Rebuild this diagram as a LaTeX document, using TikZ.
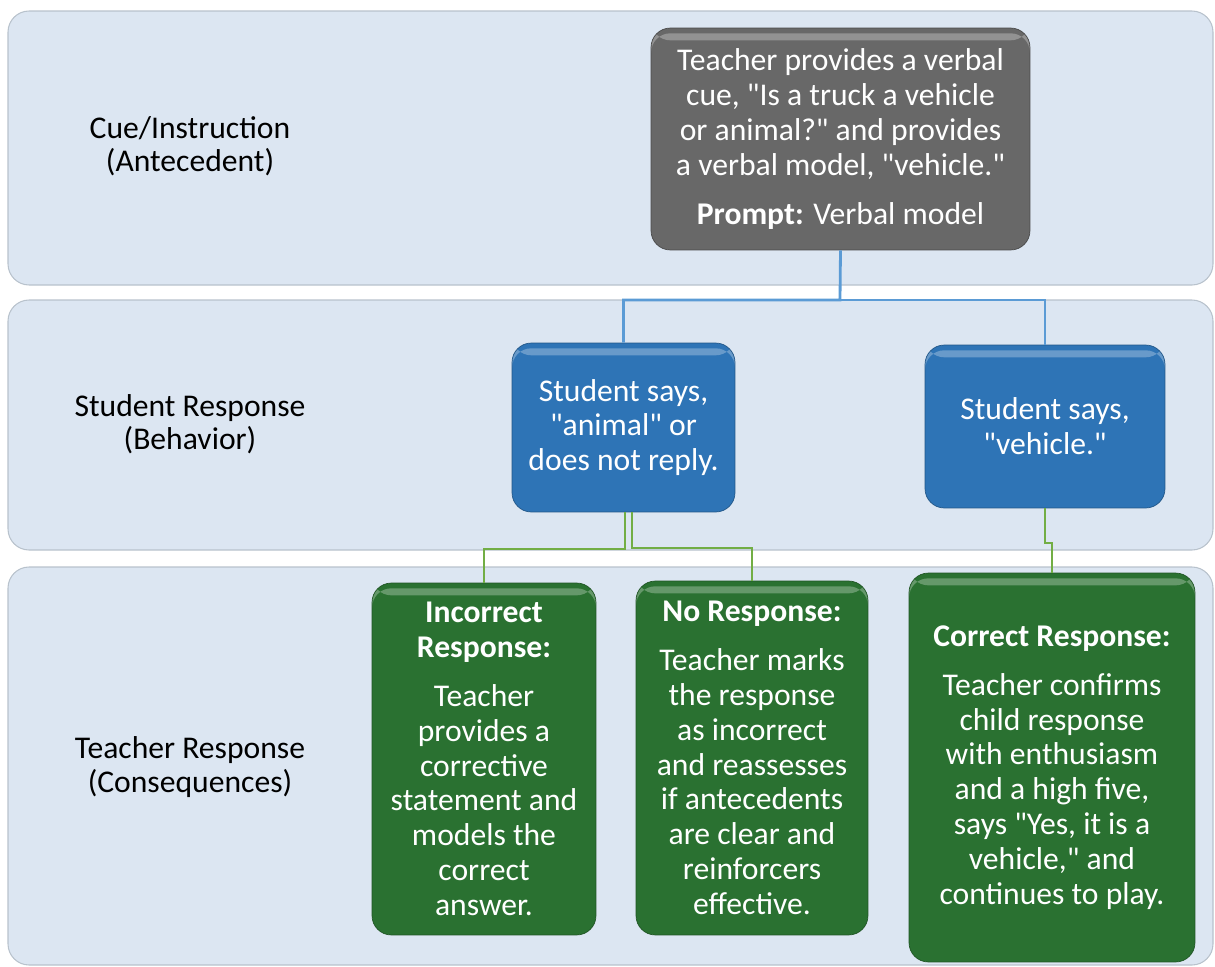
\documentclass[tikz,border=0pt]{standalone}
\usepackage{fontspec}
\setmainfont{Carlito}[Ligatures=TeXOff]

\definecolor{bandfill}{HTML}{DCE6F2}
\definecolor{bandedge}{HTML}{B8C2CC}
\definecolor{cuegray}{HTML}{686868}
\definecolor{saysblue}{HTML}{2E74B6}
\definecolor{linkblue}{HTML}{5B9BD5}
\definecolor{replygreen}{HTML}{2A7131}
\definecolor{linkgreen}{HTML}{72AE45}

\tikzset{
	band/.style={fill=bandfill, draw=bandedge, line width=0.6pt, rounded corners=12pt},
	lbl/.style={align=center, font=\fontsize{18}{19}\selectfont},
	box/.style={rounded corners=11pt, align=center, text=white, inner sep=0pt,
		font=\fontsize{18}{19.8}\selectfont,
		path picture={\fill[white, opacity=.28] ([yshift=-3pt]path picture bounding box.north west) rectangle ([yshift=-7pt]path picture bounding box.north east);}},
	cuebox/.style={box, fill=cuegray, draw=cuegray!70!black},
	saysbox/.style={box, fill=saysblue, draw=saysblue!75!black},
	replybox/.style={box, fill=replygreen, draw=replygreen!75!black},
	bluelink/.style={draw=linkblue, line width=1.6pt},
	greenlink/.style={draw=linkgreen, line width=1.4pt}
}

\begin{document}
\begin{tikzpicture}[x=0.02cm, y=-0.02cm]

	\useasboundingbox (0,0) rectangle (1215,967);

	% the three rows
	\draw[band] (8,11) rectangle (1213,285);
	\draw[band] (8,300) rectangle (1213,550);
	\draw[band] (8,567) rectangle (1213,965);

	\node[lbl] (row1) at (190,146) {Cue/Instruction\\(Antecedent)};
	\node[lbl] (row2) at (190,424) {Student Response\\(Behavior)};
	\node[lbl] (row3) at (190,767) {Teacher Response\\(Consequences)};

	% antecedent
	\node[cuebox, minimum width=7.58cm, minimum height=4.44cm] (cue) at (840.5,139)
		{Teacher provides a verbal\\cue, "Is a truck a vehicle\\or animal?" and provides\\a verbal model, "vehicle."\\[8pt]\textbf{Prompt:} Verbal model};

	% behavior
	\node[saysbox, minimum width=4.46cm, minimum height=3.38cm] (says1) at (623.5,427.5)
		{Student says,\\"animal" or\\does not reply.};
	\node[saysbox, minimum width=4.8cm, minimum height=3.26cm] (says2) at (1045,426.5)
		{Student says,\\"vehicle."};

	% consequences
	\node[replybox, minimum width=4.48cm, minimum height=7.04cm] (wrong) at (484,759)
		{\textbf{Incorrect}\\\textbf{Response:}\\[8pt]Teacher\\provides a\\corrective\\statement and\\models the\\correct\\answer.};
	\node[replybox, minimum width=4.64cm, minimum height=7.08cm] (none) at (752,758)
		{\textbf{No Response:}\\[8pt]Teacher marks\\the response\\as incorrect\\and reassesses\\if antecedents\\are clear and\\reinforcers\\effective.};
	\node[replybox, minimum width=5.72cm, minimum height=7.78cm] (right) at (1052,767.5)
		{\textbf{Correct Response:}\\[8pt]Teacher confirms\\child response\\with enthusiasm\\and a high five,\\says "Yes, it is a\\vehicle," and\\continues to play.};

	% connectors
	\coordinate (split) at (840,300);
	\draw[bluelink] (cue.south) -- (split) -| (says1.north);
	\draw[bluelink] (split) -| (says2.north);

	\coordinate (forkL) at (625,549);
	\coordinate (forkR) at (632,548);
	\draw[greenlink] (says1.south -| forkL) -- (forkL) -| (wrong.north);
	\draw[greenlink] (says1.south -| forkR) -- (forkR) -| (none.north);

	\coordinate (jog) at (1045,543);
	\draw[greenlink] (says2.south) -- (jog) -| (right.north);

\end{tikzpicture}
\end{document}
